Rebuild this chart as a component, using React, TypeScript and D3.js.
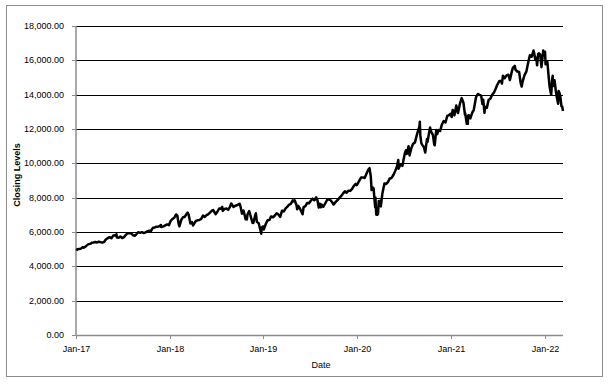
import React from "react";
import * as d3 from "d3";

const dates: string[] = [
  "2017-01-03","2017-01-06","2017-01-13","2017-01-20","2017-01-27","2017-01-31",
  "2017-02-03","2017-02-10","2017-02-17","2017-02-24","2017-02-28",
  "2017-03-03","2017-03-10","2017-03-17","2017-03-24","2017-03-31",
  "2017-04-07","2017-04-13","2017-04-21","2017-04-28",
  "2017-05-05","2017-05-12","2017-05-19","2017-05-26","2017-05-31",
  "2017-06-08","2017-06-09","2017-06-16","2017-06-23","2017-06-30",
  "2017-07-07","2017-07-14","2017-07-21","2017-07-28",
  "2017-08-04","2017-08-11","2017-08-18","2017-08-25","2017-08-31",
  "2017-09-08","2017-09-15","2017-09-22","2017-09-29",
  "2017-10-06","2017-10-13","2017-10-20","2017-10-27",
  "2017-11-03","2017-11-10","2017-11-17","2017-11-24","2017-11-28","2017-11-29",
  "2017-12-08","2017-12-15","2017-12-22","2017-12-29",
  "2018-01-05","2018-01-12","2018-01-19","2018-01-26","2018-01-31",
  "2018-02-02","2018-02-05","2018-02-08","2018-02-16","2018-02-23","2018-02-28",
  "2018-03-09","2018-03-12","2018-03-16","2018-03-23","2018-03-29",
  "2018-04-02","2018-04-06","2018-04-13","2018-04-20","2018-04-27",
  "2018-05-04","2018-05-11","2018-05-18","2018-05-25","2018-05-31",
  "2018-06-08","2018-06-15","2018-06-20","2018-06-29",
  "2018-07-06","2018-07-13","2018-07-20","2018-07-25","2018-07-27",
  "2018-08-03","2018-08-10","2018-08-17","2018-08-24","2018-08-29",
  "2018-09-07","2018-09-14","2018-09-21","2018-09-28",
  "2018-10-01","2018-10-05","2018-10-10","2018-10-16","2018-10-24","2018-10-29","2018-10-31",
  "2018-11-07","2018-11-14","2018-11-20","2018-11-23","2018-11-30",
  "2018-12-03","2018-12-07","2018-12-14","2018-12-21","2018-12-24","2018-12-26","2018-12-31",
  "2019-01-03","2019-01-11","2019-01-18","2019-01-25","2019-01-31",
  "2019-02-08","2019-02-15","2019-02-22","2019-02-28",
  "2019-03-08","2019-03-15","2019-03-22","2019-03-29",
  "2019-04-05","2019-04-12","2019-04-18","2019-04-26","2019-04-30",
  "2019-05-03","2019-05-10","2019-05-13","2019-05-17","2019-05-24","2019-05-31",
  "2019-06-03","2019-06-07","2019-06-14","2019-06-21","2019-06-28",
  "2019-07-05","2019-07-12","2019-07-19","2019-07-26","2019-07-31",
  "2019-08-05","2019-08-09","2019-08-14","2019-08-16","2019-08-23","2019-08-30",
  "2019-09-06","2019-09-13","2019-09-20","2019-09-27",
  "2019-10-02","2019-10-11","2019-10-18","2019-10-25","2019-10-31",
  "2019-11-08","2019-11-15","2019-11-22","2019-11-29",
  "2019-12-06","2019-12-13","2019-12-20","2019-12-27","2019-12-31",
  "2020-01-03","2020-01-10","2020-01-17","2020-01-24","2020-01-31",
  "2020-02-07","2020-02-14","2020-02-19","2020-02-24","2020-02-27","2020-02-28",
  "2020-03-03","2020-03-06","2020-03-09","2020-03-12","2020-03-13","2020-03-16","2020-03-20","2020-03-23","2020-03-26","2020-03-31",
  "2020-04-03","2020-04-09","2020-04-17","2020-04-24","2020-04-30",
  "2020-05-08","2020-05-15","2020-05-22","2020-05-29",
  "2020-06-05","2020-06-10","2020-06-11","2020-06-19","2020-06-26","2020-06-30",
  "2020-07-06","2020-07-10","2020-07-13","2020-07-20","2020-07-24","2020-07-31",
  "2020-08-07","2020-08-14","2020-08-21","2020-08-28","2020-08-31",
  "2020-09-02","2020-09-04","2020-09-08","2020-09-11","2020-09-18","2020-09-23","2020-09-30",
  "2020-10-02","2020-10-09","2020-10-12","2020-10-16","2020-10-23","2020-10-28","2020-10-30",
  "2020-11-05","2020-11-09","2020-11-13","2020-11-20","2020-11-27",
  "2020-12-04","2020-12-11","2020-12-18","2020-12-24","2020-12-31",
  "2021-01-04","2021-01-08","2021-01-15","2021-01-22","2021-01-27","2021-01-29",
  "2021-02-05","2021-02-12","2021-02-19","2021-02-25","2021-02-26",
  "2021-03-04","2021-03-08","2021-03-09","2021-03-12","2021-03-18","2021-03-26","2021-03-31",
  "2021-04-09","2021-04-16","2021-04-23","2021-04-29",
  "2021-05-04","2021-05-07","2021-05-12","2021-05-14","2021-05-21","2021-05-28",
  "2021-06-04","2021-06-11","2021-06-18","2021-06-25","2021-06-30",
  "2021-07-09","2021-07-16","2021-07-19","2021-07-23","2021-07-30",
  "2021-08-06","2021-08-13","2021-08-19","2021-08-27","2021-08-31",
  "2021-09-07","2021-09-10","2021-09-17","2021-09-24","2021-09-30",
  "2021-10-04","2021-10-08","2021-10-15","2021-10-22","2021-10-29",
  "2021-11-05","2021-11-12","2021-11-19","2021-11-22","2021-11-26","2021-11-30",
  "2021-12-03","2021-12-07","2021-12-10","2021-12-15","2021-12-20","2021-12-27","2021-12-31",
  "2022-01-03","2022-01-05","2022-01-12","2022-01-18","2022-01-21","2022-01-27","2022-01-31",
  "2022-02-02","2022-02-03","2022-02-09","2022-02-14","2022-02-18","2022-02-23","2022-02-25",
  "2022-03-01","2022-03-04","2022-03-08","2022-03-11","2022-03-14",
];

const closes: number[] = [
  4911,4990,5010,5030,5120,5080,
  5110,5190,5280,5310,5330,
  5370,5390,5420,5390,5436,
  5410,5380,5430,5580,
  5640,5700,5640,5790,5790,
  5860,5690,5660,5740,5650,
  5700,5830,5920,5920,
  5930,5810,5780,5880,5990,
  5950,5990,5940,5980,
  6040,6080,6060,6230,
  6260,6310,6310,6350,6410,6290,
  6330,6390,6440,6396,
  6650,6760,6830,7022,6950,
  6760,6480,6330,6730,6880,6870,
  7080,7130,7010,6500,6580,
  6380,6470,6640,6680,6700,
  6760,6960,6880,6990,7030,
  7140,7240,7280,7040,
  7180,7370,7360,7460,7230,
  7340,7370,7290,7470,7660,
  7460,7530,7560,7630,
  7640,7430,7070,7250,6740,6730,7000,
  7220,6850,6530,6520,6950,
  7090,6590,6510,6090,5900,6250,6330,
  6150,6480,6690,6700,6900,
  6860,6960,7090,7030,
  6880,7240,7200,7380,
  7480,7600,7640,7840,7780,
  7850,7590,7320,7520,7360,7130,
  7030,7450,7510,7690,7670,
  7820,7940,7850,8020,7850,
  7420,7650,7440,7600,7470,7660,
  7850,7900,7850,7720,
  7600,7770,7860,8000,8080,
  8250,8370,8290,8410,
  8400,8510,8690,8800,8730,
  8790,8990,9170,9180,9150,
  9390,9620,9720,9220,8440,8460,
  8590,8530,7950,7440,8010,7020,7000,7040,7800,7810,
  7490,8230,8830,8800,8890,
  9120,9150,9320,9550,
  9820,10200,9690,9950,9850,10160,
  10600,10760,10550,10990,10460,10900,
  11140,11220,11630,12000,12110,
  12420,11620,11160,11090,10940,10630,11420,
  11260,11850,12090,11850,11660,11100,11050,
  11940,11700,11940,11880,12260,
  12460,12380,12760,12800,12890,
  12700,13110,12800,13370,13000,12930,
  13460,13800,13530,12830,12910,
  12300,12300,12780,12810,12620,12980,13090,
  13850,14040,13990,13950,
  13450,13710,12940,13300,13230,13690,
  13770,13990,14130,14360,14550,
  14800,14790,14650,15100,14960,
  15120,15160,14850,15370,15580,
  15680,15450,15350,15320,14690,
  14470,14790,15140,15340,15850,
  16300,16210,16570,16400,16030,16140,
  15710,16360,16410,16340,15600,16570,16320,
  16500,15770,15920,14890,14440,14000,14930,
  15100,14500,14840,14220,13850,13470,14220,
  14070,13840,13320,13300,13050,
];

const yTicks: number[] = [0, 2000, 4000, 6000, 8000, 10000, 12000, 14000, 16000, 18000];
const xTickDates: string[] = ["2017-01-01", "2018-01-01", "2019-01-01", "2020-01-01", "2021-01-01", "2022-01-01"];
const xTickLabels: string[] = ["Jan-17", "Jan-18", "Jan-19", "Jan-20", "Jan-21", "Jan-22"];

const W = 610;
const H = 384;
const left = 76;
const right = 563;
const top = 26;
const bottom = 335;
const FONT = "'Liberation Sans', Arial, sans-serif";

export default function App() {
  const parse = d3.utcParse("%Y-%m-%d");
  const data = dates.map((d, i) => ({ date: parse(d) as Date, v: closes[i] }));
  const x = d3
    .scaleUtc()
    .domain([parse("2017-01-01") as Date, parse(dates[dates.length - 1]) as Date])
    .range([left, right]);
  const y = d3.scaleLinear().domain([0, 18000]).range([bottom, top]);
  const line = d3
    .line<{ date: Date; v: number }>()
    .x((d) => x(d.date))
    .y((d) => y(d.v))
    .curve(d3.curveLinear);
  const fmt = d3.format(",.2f");

  return (
    <svg
      width={W}
      height={H}
      style={{ position: "absolute", left: 0, top: 0, background: "#fff" }}
      fontFamily={FONT}
    >
      <rect x={6.5} y={5.5} width={596} height={371} fill="#fff" stroke="#8c8c8c" strokeWidth={1} />
      {yTicks.map((t) => (
        <g key={t}>
          {t > 0 && (
            <line x1={left} x2={right} y1={Math.round(y(t)) + 0.5} y2={Math.round(y(t)) + 0.5} stroke="#000" strokeWidth={1} />
          )}
          <line x1={left - 4} x2={left} y1={Math.round(y(t)) + 0.5} y2={Math.round(y(t)) + 0.5} stroke="#8c8c8c" strokeWidth={1} />
          <text x={64} y={y(t)} dy="0.35em" textAnchor="end" fontSize={9} fill="#000">
            {fmt(t)}
          </text>
        </g>
      ))}
      <line x1={left} x2={left} y1={top} y2={bottom} stroke="#8c8c8c" strokeWidth={1.5} />
      <line x1={left} x2={right} y1={bottom + 0.5} y2={bottom + 0.5} stroke="#8c8c8c" strokeWidth={1.5} />
      {xTickDates.map((d, i) => {
        const xx = Math.round(x(parse(d) as Date)) + 0.5;
        return (
          <g key={d}>
            <line x1={xx} x2={xx} y1={bottom} y2={bottom + 4} stroke="#8c8c8c" strokeWidth={1} />
            <text x={xx} y={352} textAnchor="middle" fontSize={9} fill="#000">
              {xTickLabels[i]}
            </text>
          </g>
        );
      })}
      <path d={line(data) || ""} fill="none" stroke="#000" strokeWidth={2.5} strokeLinejoin="round" />
      <text x={321} y={368} textAnchor="middle" fontSize={9} fill="#000">
        Date
      </text>
      <text
        transform={`translate(20,175) rotate(-90)`}
        textAnchor="middle"
        fontSize={9}
        fontWeight="bold"
        fill="#000"
      >
        Closing Levels
      </text>
    </svg>
  );
}
